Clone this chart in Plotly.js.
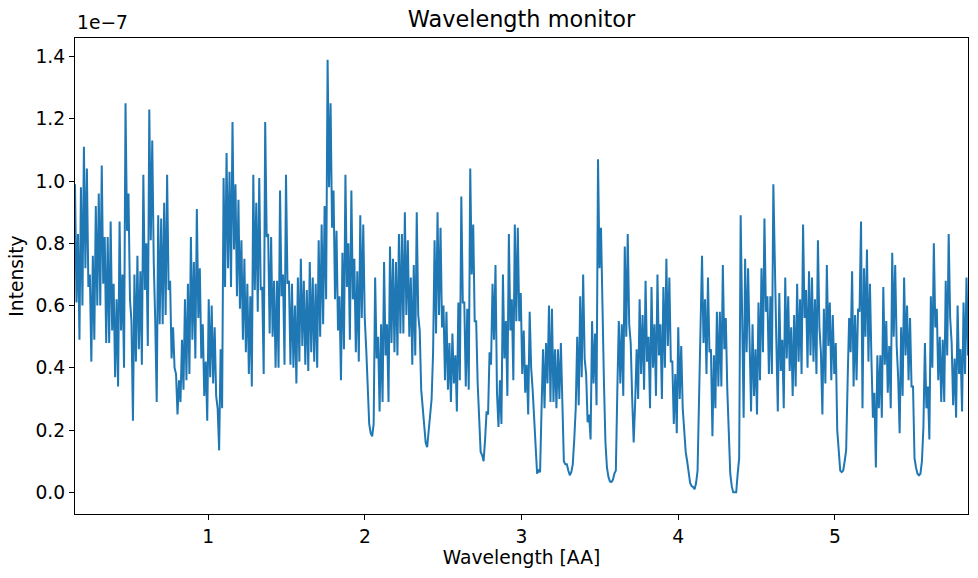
<!DOCTYPE html>
<html>
<head>
<meta charset="utf-8">
<script src="https://cdn.plot.ly/plotly-3.0.1.min.js"></script>
<style>
  html, body { margin: 0; padding: 0; background: #ffffff; }
  #plot { width: 978px; height: 578px; }
</style>
</head>
<body>
<div id="plot"></div>
<script>
// Wavelength bin grid of the monitor (AA)
const lambdaMin = 0.15;
const lambdaMax = 5.85;

// Monitor intensity per bin, in units of 1e-7, split by wavelength band
const band1 = [0.99,0.61, 0.83,0.49, 0.98,0.60, 1.11,0.72, 1.04,0.66, 0.70,0.42, 0.76,0.49, 0.92,0.60, 0.96,0.60, 1.05,0.67, 0.82,0.48, 0.82,0.48, 0.87,0.52, 0.67,0.37, 0.62,0.34, 0.87,0.52, 0.70,0.40, 1.25,0.84, 0.96,0.62, 0.55,0.23, 0.70,0.42, 0.76,0.46, 0.71,0.41, 1.02,0.65, 0.80,0.47];
const band2 = [1.23,0.81, 1.13,0.74, 0.55,0.29, 0.89,0.54, 0.88,0.54, 0.93,0.57, 1.02,0.65, 0.68,0.43, 0.53,0.40, 0.38,0.25, 0.36,0.29, 0.49,0.33, 0.62,0.36, 0.67,0.38, 0.82,0.49, 0.74,0.43, 0.91,0.56, 0.72,0.43, 0.54,0.31, 0.42,0.23, 0.62,0.37, 0.60,0.35, 0.53,0.31, 0.27,0.135, 0.46,0.27];
const band3 = [1.01,0.66, 1.09,0.72, 1.03,0.66, 1.19,0.78, 0.99,0.63, 0.94,0.59, 0.81,0.49, 0.75,0.45, 0.67,0.38, 0.63,0.34, 1.02,0.65, 0.93,0.58, 1.01,0.65, 0.66,0.38, 1.19,0.82, 0.83,0.51, 0.82,0.50, 0.68,0.40, 0.68,0.40, 0.97,0.63, 0.70,0.41, 1.02,0.67, 0.68,0.41, 0.67,0.40, 0.60,0.35];
const band4 = [0.69,0.42, 0.75,0.47, 0.68,0.41, 0.65,0.39, 0.74,0.45, 0.69,0.42, 0.67,0.40, 0.81,0.50, 0.86,0.54, 0.92,0.62, 1.39,0.98, 1.25,0.85, 0.97,0.62, 0.84,0.52, 0.63,0.36, 0.77,0.46, 1.02,0.66, 0.80,0.49, 0.97,0.62, 0.75,0.45, 0.71,0.42, 0.89,0.56, 0.86,0.56, 0.46,0.30, 0.22,0.19];
const band5 = [0.18,0.22, 0.69,0.43, 0.50,0.26, 0.54,0.29, 0.74,0.44, 0.54,0.29, 0.79,0.48, 0.75,0.45, 0.74,0.44, 0.83,0.51, 0.83,0.51, 0.90,0.57, 0.81,0.50, 0.69,0.41, 0.73,0.44, 0.90,0.57, 0.52,0.33, 0.27,0.20, 0.16,0.145, 0.19,0.25, 0.30,0.45, 0.81,0.51, 0.90,0.57, 0.85,0.53, 0.60,0.36, 0.58,0.33];
const band6 = [0.48,0.29, 0.51,0.35, 0.44,0.26, 0.61,0.36, 0.95,0.61, 0.61,0.34, 0.59,0.33, 1.04,0.70, 0.86,0.55, 0.55,0.35, 0.25,0.13, 0.12,0.10, 0.17,0.26, 0.25,0.45, 0.41,0.67, 0.49,0.73, 0.32,0.21, 0.36,0.22, 0.70,0.43, 0.55,0.31, 0.83,0.52, 0.62,0.36, 0.86,0.55, 0.85,0.55, 0.64,0.38];
const band7 = [0.52,0.32, 0.41,0.25, 0.58,0.40, 0.33,0.23, 0.13,0.06, 0.07,0.065, 0.27,0.46, 0.27,0.48, 0.35,0.60, 0.29,0.59, 0.29,0.46, 0.27,0.46, 0.30,0.48, 0.29,0.10, 0.09,0.09, 0.07,0.055, 0.065,0.09, 0.17,0.27, 0.50,0.28, 0.63,0.37, 0.70,0.43, 0.38,0.225, 0.25,0.17, 0.55,0.35, 0.51,0.28];
const band8 = [1.07,0.72, 0.85,0.55, 0.35,0.16, 0.08,0.05, 0.035,0.033, 0.04,0.06, 0.07,0.33, 0.55,0.35, 0.54,0.31, 0.79,0.50, 0.83,0.54, 0.48,0.30, 0.16,0.29, 0.46,0.30, 0.62,0.38, 0.57,0.33, 0.68,0.42, 0.50,0.27, 0.66,0.40, 0.54,0.31, 0.70,0.44, 0.54,0.30, 0.66,0.40, 0.75,0.47, 0.69,0.42];
const band9 = [0.42,0.22, 0.38,0.19, 0.53,0.30, 0.47,0.27, 0.20,0.13, 0.10,0.07, 0.03,0.02, 0.017,0.01, 0.03,0.07, 0.30,0.47, 0.76,0.48, 0.62,0.38, 0.69,0.45, 0.46,0.18, 0.44,0.27, 0.58,0.34, 0.58,0.34, 0.73,0.46, 0.56,0.33, 0.20,0.06, 0.02,0.00, 0.00,0.00, 0.06,0.11, 0.89,0.49, 0.24,0.75, 0.45,0.72];
const band10 = [0.48,0.26, 0.54,0.31, 0.46,0.25, 0.61,0.36, 0.72,0.45, 0.88,0.58, 0.63,0.38, 0.63,0.38, 0.99,0.68, 0.49,0.26, 0.64,0.39, 0.49,0.27, 0.69,0.43, 0.63,0.39, 0.53,0.31, 0.57,0.34, 0.67,0.42, 0.62,0.38, 0.86,0.56, 0.65,0.40, 0.71,0.44, 0.69,0.42, 0.62,0.38, 0.81,0.53, 0.45,0.25];
const band11 = [0.59,0.35, 0.73,0.47, 0.61,0.36, 0.57,0.38, 0.48,0.20, 0.12,0.07, 0.065,0.07, 0.10,0.135, 0.36,0.56, 0.45,0.71, 0.34,0.57, 0.36,0.59, 0.58,0.87, 0.27,0.72, 0.50,0.78, 0.42,0.67, 0.43,0.24, 0.32,0.08, 0.44,0.27, 0.44,0.24, 0.66,0.41, 0.55,0.32, 0.47,0.27, 0.77,0.50, 0.73,0.47, 0.37,0.19];
const band12 = [0.53,0.31, 0.69,0.44, 0.60,0.36, 0.56,0.34, 0.34,0.11, 0.08,0.06, 0.055,0.06, 0.10,0.21, 0.48,0.27, 0.34,0.17, 0.63,0.40, 0.80,0.53, 0.59,0.36, 0.50,0.29, 0.49,0.29, 0.68,0.44, 0.83,0.56, 0.48,0.28, 0.43,0.24, 0.60,0.38, 0.46,0.26, 0.61,0.38, 0.69,0.44];

const yTicks = [0.0, 0.2, 0.4, 0.6, 0.8, 1.0, 1.2, 1.4];
const xTicks = [1, 2, 3, 4, 5];

const intensity = [].concat(band1, band2, band3, band4, band5, band6,
                            band7, band8, band9, band10, band11, band12);
const nBins = intensity.length;
const step = (lambdaMax - lambdaMin) / (nBins - 1);
const wavelength = intensity.map((_, i) => lambdaMin + i * step);

// autoscale like a default y axis: 5% padding around the data
const yMin = Math.min(...intensity), yMax = Math.max(...intensity);
const pad = 0.05 * (yMax - yMin);

const font = 'DejaVu Sans, sans-serif';
const labelSize = 18.7;

const trace = {
  x: wavelength,
  y: intensity,
  type: 'scatter',
  mode: 'lines',
  line: { color: '#1f77b4', width: 2 },
  hoverinfo: 'x+y'
};

const axisCommon = {
  ticks: 'outside', ticklen: 5, tickwidth: 1.1, tickcolor: '#000000',
  showline: true, linecolor: '#000000', linewidth: 1.1, mirror: true,
  showgrid: false, zeroline: false,
  tickfont: { family: font, size: labelSize, color: '#000000' }
};

const layout = {
  width: 978,
  height: 578,
  margin: { l: 75, r: 10, t: 38, b: 64 },
  paper_bgcolor: '#ffffff',
  plot_bgcolor: '#ffffff',
  showlegend: false,
  font: { family: font, color: '#000000', size: labelSize },
  title: {
    text: 'Wavelength monitor',
    font: { family: font, size: 22.4, color: '#000000' },
    x: 0.5, xref: 'paper', xanchor: 'center',
    y: 1 - 19 / 578, yref: 'container', yanchor: 'middle'
  },
  xaxis: Object.assign({}, axisCommon, {
    range: [wavelength[0], wavelength[nBins - 1]],
    tickvals: xTicks,
    ticktext: xTicks.map(String),
    title: { text: 'Wavelength [AA]', font: { family: font, size: labelSize, color: '#000000' }, standoff: 4 }
  }),
  yaxis: Object.assign({}, axisCommon, {
    range: [yMin - pad, yMax + pad],
    tickvals: yTicks,
    ticktext: yTicks.map(v => v.toFixed(1)),
    title: { text: 'Intensity', font: { family: font, size: labelSize, color: '#000000' }, standoff: 6 }
  }),
  annotations: [{
    text: '1e\u22127',
    xref: 'paper', yref: 'paper',
    x: 0, y: 1, xanchor: 'left', yanchor: 'bottom',
    yshift: 3,
    showarrow: false,
    font: { family: font, size: labelSize, color: '#000000' }
  }]
};

Plotly.newPlot('plot', [trace], layout, { displayModeBar: false, staticPlot: true });
</script>
</body>
</html>
